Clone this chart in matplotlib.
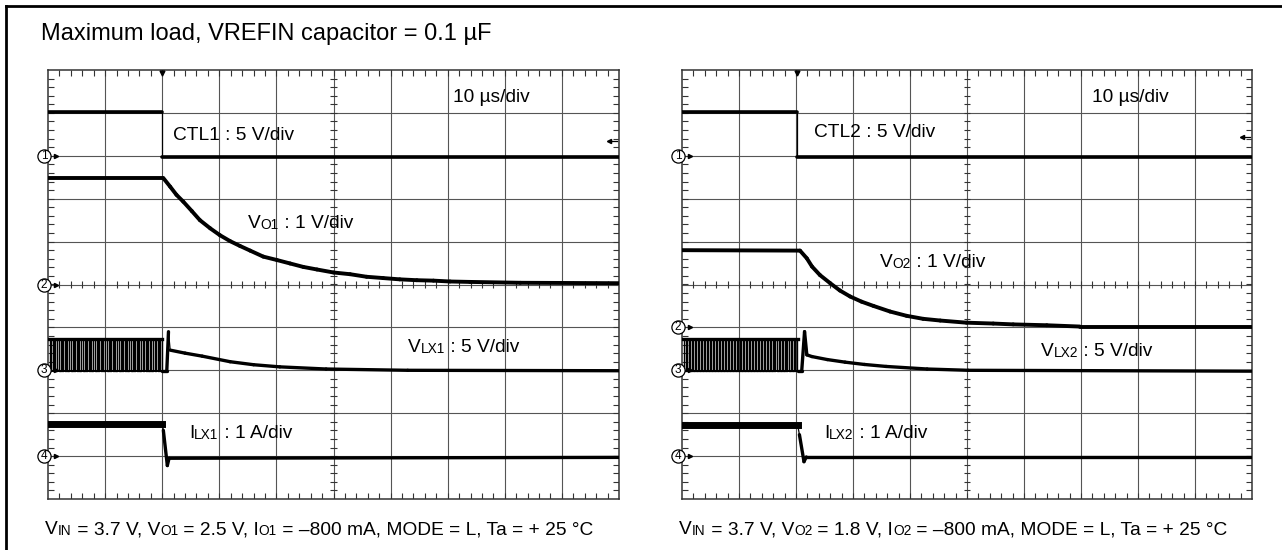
import numpy as np
import matplotlib
matplotlib.use("Agg")
import matplotlib.pyplot as plt
from matplotlib.collections import LineCollection
from matplotlib.lines import Line2D

plt.rcParams['font.family'] = ['Liberation Sans', 'DejaVu Sans']

W, H = 1282, 550

title = "Maximum load, VREFIN capacitor = 0.1 \u00b5F"
timebase = "10 \u00b5s/div"

# ---- left shot: time in us (10 us/div), values in V or A
ctl1_t = [0, 20.0, 20.0, 100]
ctl1_v = [5.1, 5.1, -0.15, -0.15]
vo1_t = [0, 20.2, 21.4, 22.5, 23.7, 25.2, 26.6, 28.4, 30.1, 31.9, 33.6, 35.4, 37.7, 40.1, 42.4,
         44.7, 47.1, 50.0, 52.9, 55.8, 58.7, 61.6, 64.6, 67.5, 70.4, 73.9, 82.7, 100]
vo1_v = [2.48, 2.48, 2.28, 2.09, 1.93, 1.71, 1.50, 1.31, 1.15, 1.01, 0.90, 0.79, 0.65, 0.57, 0.49,
         0.41, 0.35, 0.28, 0.24, 0.18, 0.15, 0.12, 0.10, 0.09, 0.07, 0.06, 0.04, 0.03]
vlx1_sw = [0.3, 0.8, 1.3, 1.9, 2.4, 2.9, 3.4, 4.0, 4.5, 5.0, 5.5, 6.1, 6.6, 7.1, 7.6, 8.2, 8.7, 9.2,
           9.7, 10.3, 10.8, 11.3, 11.8, 12.4, 12.9, 13.4, 13.9, 14.5, 15.0, 15.5, 16.0, 16.6,
           17.1, 17.6, 18.1, 18.7, 19.2, 19.7]
vlx1_t = [20.0, 20.8, 21.1, 21.4, 24.0, 27.0, 31.9, 36.0, 40.6, 48.7, 63.0, 100]
vlx1_v = [-0.1, -0.1, 4.5, 2.35, 2.0, 1.65, 1.0, 0.65, 0.4, 0.15, 0.0, -0.05]
ilx1_t = [0, 20.0, 20.2, 20.9, 21.2, 100]
ilx1_v = [0.75, 0.75, 0.6, -0.22, -0.05, -0.03]

# ---- right shot
ctl2_t = [0, 20.2, 20.2, 100]
ctl2_v = [5.1, 5.1, -0.15, -0.15]
vo2_t = [0, 20.7, 21.9, 22.8, 24.2, 26.0, 27.7, 29.5, 31.5, 33.6, 36.5, 39.4, 42.3, 45.3, 49.9,
         54.6, 58.1, 64.0, 69.8, 100]
vo2_v = [1.80, 1.79, 1.61, 1.42, 1.22, 1.03, 0.86, 0.72, 0.60, 0.50, 0.37, 0.27, 0.20, 0.16, 0.11,
         0.09, 0.07, 0.05, 0.02, 0.02]
vlx2_sw = [0.4, 0.9, 1.4, 2.0, 2.5, 3.0, 3.5, 4.1, 4.6, 5.1, 5.6, 6.2, 6.7, 7.2, 7.7, 8.3, 8.8, 9.3,
           9.8, 10.4, 10.9, 11.4, 11.9, 12.5, 13.0, 13.5, 14.0, 14.6, 15.1, 15.6, 16.1, 16.7,
           17.2, 17.7, 18.2, 18.8, 19.3, 19.8]
vlx2_t = [20.3, 21.0, 21.5, 21.9, 22.8, 25.5, 28.6, 32.0, 35.8, 43.0, 50.2, 100]
vlx2_v = [-0.1, -0.1, 4.5, 1.8, 1.6, 1.25, 0.95, 0.68, 0.45, 0.15, 0.0, -0.1]
ilx2_t = [0, 20.3, 20.6, 21.4, 21.8, 100]
ilx2_v = [0.72, 0.72, 0.5, -0.13, -0.02, -0.02]

sw_high, sw_low = 3.6, -0.1

foot1 = [("V", 0), ("IN", 1), (" = 3.7 V, V", 0), ("O1", 1), (" = 2.5 V, I", 0), ("O1", 1),
         (" = \u2013800 mA, MODE = L, Ta = + 25 \u00b0C", 0)]
foot2 = [("V", 0), ("IN", 1), (" = 3.7 V, V", 0), ("O2", 1), (" = 1.8 V, I", 0), ("O2", 1),
         (" = \u2013800 mA, MODE = L, Ta = + 25 \u00b0C", 0)]

FS = 13.8


def rich(ax, x, y, parts, size=FS, transform=None, va='center'):
    prev = None
    for s, small in parts:
        fs = size * 0.72 if small else size
        if prev is None:
            prev = ax.text(x, y, s, fontsize=fs, va=va, ha='left',
                           transform=transform if transform else ax.transData, zorder=8)
        else:
            prev = ax.annotate(s, xy=(1, 0), xycoords=prev, fontsize=fs, va='bottom',
                               ha='left', annotation_clip=False, zorder=8)
    return prev


def graticule(ax):
    ax.set_xlim(0, 10)
    ax.set_ylim(0, 10)
    ax.set_xticks([])
    ax.set_yticks([])
    for s in ax.spines.values():
        s.set_color('#333333')
        s.set_linewidth(1.1)
    for i in range(1, 10):
        ax.axvline(i, color='#555555', lw=0.8, zorder=1)
        ax.axhline(i, color='#555555', lw=0.8, zorder=1)
    segs = []
    tx, ty = 0.105, 0.14      # 6 px inward ticks
    cx, cy = 0.06, 0.08       # center ticks
    for k in np.arange(0.2, 10, 0.2):
        segs += [[(k, 10), (k, 10 - ty)], [(k, 0), (k, ty)],
                 [(0, k), (tx, k)], [(10, k), (10 - tx, k)],
                 [(k, 5 - cy), (k, 5 + cy)], [(5 - cx, k), (5 + cx, k)]]
    ax.add_collection(LineCollection(segs, colors='#333333', linewidths=0.8, zorder=2))


def trace(ax, t, v, gnd, scale, lw=2.4):
    x = np.array(t) / 10.0
    y = gnd + np.array(v) / scale
    ax.plot(x, y, color='black', lw=0.9, zorder=4, solid_joinstyle='round')
    segs = [[(x[i], y[i]), (x[i + 1], y[i + 1])] for i in range(len(x) - 1)
            if x[i + 1] - x[i] > 0.03]
    ax.add_collection(LineCollection(segs, colors='black', linewidths=lw, capstyle='round',
                                     joinstyle='round', zorder=4))


def switching(ax, pulses, t_end, gnd, scale):
    xs, ys = [0.0], [sw_high]
    for p in pulses:
        xs += [p, p, p + 0.3, p + 0.3]
        ys += [sw_high, sw_low, sw_low, sw_high]
    xs.append(t_end)
    ys.append(sw_high)
    x = np.array(xs) / 10.0
    y = gnd + np.array(ys) / scale
    ax.plot(x, y, color='black', lw=1.0, zorder=4)
    ax.plot([0, t_end / 10.0], [gnd + sw_high / scale] * 2, color='black', lw=2.4, zorder=4)
    ax.plot([0, t_end / 10.0], [gnd + sw_low / scale] * 2, color='black', lw=1.4, zorder=4)


def marker(ax, n, y):
    ax.plot(-0.07, y, 'o', ms=9.5, mfc='white', mec='black', mew=0.9, clip_on=False, zorder=6)
    ax.text(-0.07, y, str(n), fontsize=8.5, ha='center', va='center', zorder=7, clip_on=False)
    ax.plot(0.14, y, '>', ms=3, color='black', clip_on=False, zorder=6)


fig = plt.figure(figsize=(W / 100, H / 100), dpi=100)
fig.patch.set_facecolor('white')

fig.add_artist(Line2D([5.5 / W, 1], [1 - 5.5 / H] * 2, color='black', lw=2.0,
                      transform=fig.transFigure))
fig.add_artist(Line2D([5.5 / W] * 2, [0, 1 - 5.5 / H], color='black', lw=2.0,
                      transform=fig.transFigure))
fig.text(41 / W, 1 - 34 / H, title, fontsize=17, va='center', ha='left')

axL = fig.add_axes([48 / W, 51 / H, 571 / W, 429 / H])
axR = fig.add_axes([682 / W, 51 / H, 570 / W, 429 / H])

panels = [
    (axL, dict(ctl=(ctl1_t, ctl1_v), vo=(vo1_t, vo1_v), sw=vlx1_sw, lx=(vlx1_t, vlx1_v),
               il=(ilx1_t, ilx1_v), g=(8, 5, 3, 1), trig=8.35, n='1', tb=7.09,
               lab=((2.19, 8.48), (3.5, 6.43), (6.3, 3.52), (2.47, 1.52)), foot=foot1)),
    (axR, dict(ctl=(ctl2_t, ctl2_v), vo=(vo2_t, vo2_v), sw=vlx2_sw, lx=(vlx2_t, vlx2_v),
               il=(ilx2_t, ilx2_v), g=(8, 4, 3, 1), trig=8.44, n='2', tb=7.2,
               lab=((2.32, 8.55), (3.47, 5.52), (6.3, 3.43), (2.49, 1.52)), foot=foot2)),
]

for ax, d in panels:
    graticule(ax)
    g1, g2, g3, g4 = d['g']
    trace(ax, *d['ctl'], g1, 5.0, lw=2.6)
    trace(ax, *d['vo'], g2, 1.0, lw=2.8)
    switching(ax, d['sw'], d['lx'][0][0], g3, 5.0)
    trace(ax, *d['lx'], g3, 5.0, lw=2.4)
    il_t, il_v = d['il']
    trace(ax, il_t, il_v, g4, 1.0, lw=2.4)
    ax.plot([0, il_t[1] / 10.0], [g4 + il_v[0]] * 2, color='black', lw=5.0, zorder=4)
    for k, gy in enumerate(d['g']):
        marker(ax, k + 1, gy)
    trig_x = d['ctl'][0][1] / 10.0
    ax.plot(trig_x, 9.93, 'v', ms=3.5, color='black', clip_on=False, zorder=6)
    ax.plot([9.82, 9.97], [d['trig']] * 2, color='black', lw=0.9, zorder=6)
    ax.plot(9.82, d['trig'], '<', ms=3, color='black', zorder=6)
    n = d['n']
    rich(ax, d['tb'], 9.37, [(timebase, 0)])
    (l1, l2, l3, l4) = d['lab']
    rich(ax, *l1, [("CTL" + n + " : 5 V/div", 0)])
    rich(ax, *l2, [("V", 0), ("O" + n, 1), (" : 1 V/div", 0)])
    rich(ax, *l3, [("V", 0), ("LX" + n, 1), (" : 5 V/div", 0)])
    rich(ax, *l4, [("I", 0), ("LX" + n, 1), (" : 1 A/div", 0)])
    rich(ax, -0.005, -0.72, d['foot'], transform=ax.get_yaxis_transform())

fig.savefig("out.png", dpi=100)
